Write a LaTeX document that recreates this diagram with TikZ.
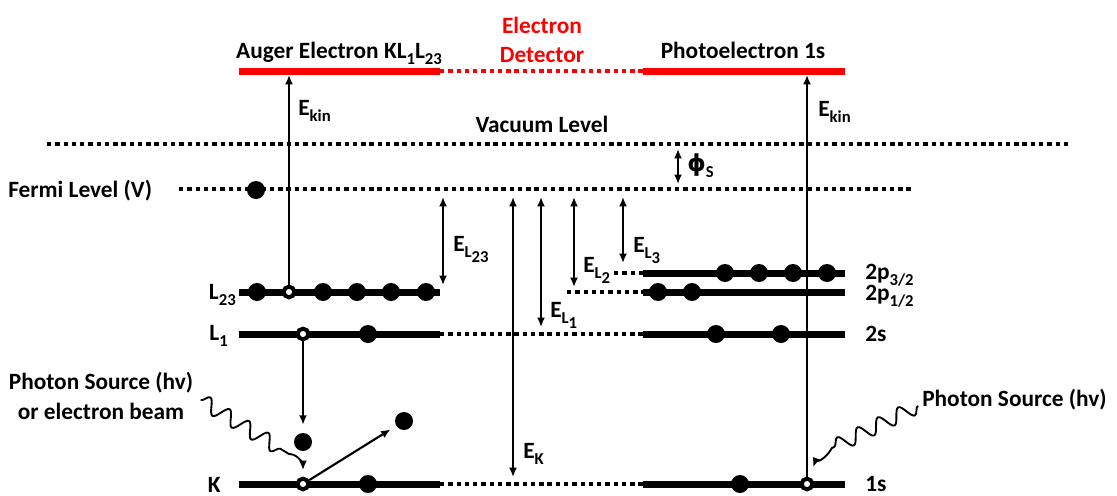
\documentclass[tikz,border=0pt]{standalone}
\usepackage{fontspec}
\setmainfont{Carlito}
\newfontfamily\greekfont{DejaVu Sans}
\usetikzlibrary{arrows.meta,decorations.pathmorphing}
\definecolor{detector}{HTML}{FF0000}
\newcommand\lo[1]{\raisebox{-0.28em}{\fontsize{12.5}{12.5}\selectfont #1}}

\tikzset{
  level/.style={line width=5.25pt},
  dotlevel/.style={line width=3pt,dash pattern=on 3.3pt off 2.9pt},
  elec/.style={circle,fill=black,inner sep=0pt,minimum size=13.5pt},
  hole/.style={circle,draw=black,fill=white,line width=3pt,inner sep=0pt,minimum size=8pt},
  arr/.style={-{Latex[length=7pt,width=6pt]},line width=1.6pt},
  darr/.style={{Latex[length=7pt,width=6pt]}-{Latex[length=7pt,width=6pt]},line width=1.6pt},
  wave/.style={decoration={snake,amplitude=5.5pt,segment length=17pt}},
  lbl/.style={anchor=base west,inner sep=0pt},
  lbr/.style={anchor=base east,inner sep=0pt},
}

\begin{document}
\begin{tikzpicture}[x=0.75pt,y=-0.75pt,font=\fontsize{17.5}{22}\selectfont\bfseries]
  \useasboundingbox (0,0) rectangle (1117,496);

  % detector
  \draw[level,detector] (239,71) -- (440,71);
  \draw[level,detector] (643,71) -- (845,71);
  \draw[dotlevel,detector] (440,71) -- (643,71);
  \node[detector,align=center] (det) at (542,40) {Electron\\Detector};
  \node[anchor=base,inner sep=0pt] (auglbl) at (339,58) {Auger Electron KL\lo{1}L\lo{23}};
  \node[anchor=base,inner sep=0pt] (phlbl) at (743,58) {Photoelectron 1s};

  % vacuum and fermi level
  \draw[dotlevel] (47,144) -- (1068,144);
  \node[anchor=base,inner sep=0pt] (vac) at (542,132) {Vacuum Level};
  \draw[dotlevel] (179,189) -- (913,189);
  \node[lbl] (fermi) at (8,197) {Fermi Level (V)};

  % levels
  \draw[level] (239,292) -- (440,292);
  \draw[level] (239,334) -- (440,334);
  \draw[level] (239,484) -- (440,484);
  \foreach \y in {273,292,334,484}
    \draw[level] (643,\y) -- (845,\y);
  \draw[dotlevel] (440,334) -- (643,334);
  \draw[dotlevel] (440,484) -- (643,484);
  \draw[dotlevel] (567,292) -- (643,292);
  \draw[dotlevel] (614,273) -- (643,273);

  \node[lbr] (l23lbl) at (236,299) {L\lo{23}};
  \node[lbr] (l1lbl) at (228,340) {L\lo{1}};
  \node[lbr] (klbl) at (221,492) {K};
  \node[lbl] (p32lbl) at (865,279) {2p\lo{3/2}};
  \node[lbl] (p12lbl) at (865,300) {2p\lo{1/2}};
  \node[lbl] (s2lbl) at (865,341) {2s};
  \node[lbl] (s1lbl) at (865,491) {1s};

  % electrons and holes
  \node[elec] (fe) at (256,190) {};
  \foreach \x [count=\i] in {257,323,357,391,426}
    \node[elec] (l23e\i) at (\x,292) {};
  \node[hole] (l23h) at (289,292) {};
  \node[hole] (l1h) at (303,334) {};
  \node[elec] (l1e) at (368,334) {};
  \node[hole] (kh) at (303,484) {};
  \node[elec] (ke) at (368,484) {};
  \node[elec] (fall) at (303,442) {};
  \node[elec] (auger) at (404,421) {};
  \foreach \x [count=\i] in {725,759,793,827}
    \node[elec] (pa\i) at (\x,273) {};
  \foreach \x [count=\i] in {658,692}
    \node[elec] (pb\i) at (\x,292) {};
  \foreach \x [count=\i] in {716,781}
    \node[elec] (sa\i) at (\x,334) {};
  \node[elec] (sb) at (740,484) {};
  \node[hole] (s1h) at (807,484) {};

  % kinetic energies
  \coordinate (augdet) at (289,75);
  \coordinate (phdet) at (807,75);
  \draw[arr] (l23h.north) -- (augdet);
  \draw[arr] (s1h.north) -- (phdet);
  \node[lbl] (ekinl) at (298,115) {E\lo{kin}};
  \node[lbl] (ekinr) at (818,116) {E\lo{kin}};

  % binding energies
  \foreach \n/\x/\yb in {l23/443/285,k/513/477,l1/541/327,l2/574/287,l3/623/263} {
    \coordinate (\n top) at (\x,197);
    \coordinate (\n bot) at (\x,\yb);
    \draw[darr] (\n top) -- (\n bot);
  }
  \coordinate (phitop) at (678,149);
  \coordinate (phibot) at (678,184);
  \draw[darr] (phitop) -- (phibot);
  \node[lbl] (phil) at (687,171) {{\greekfont ϕ}\lo{S}};
  \node[lbl] (el23) at (453,251) {E\lo{L\lo{23}}};
  \node[lbl] (ek) at (523,458) {E\lo{K}};
  \node[lbl] (el1) at (550,317) {E\lo{L\lo{1}}};
  \node[lbl] (el2) at (583,272) {E\lo{L\lo{2}}};
  \node[lbl] (el3) at (633,252) {E\lo{L\lo{3}}};

  % auger process
  \draw[arr,shorten >=6pt] (l1h.south) -- (fall);
  \draw[arr,shorten >=5pt] (kh) -- (auger);

  % photon sources
  \node[align=center] (src) at (101,396) {Photon Source (hv)\\or electron beam};
  \node[lbl] (rsrc) at (922,406) {Photon Source (hv)};
  \coordinate (lw) at (289,454);
  \coordinate (rw) at (832,448);
  \draw[arr,line width=1.4pt,shorten >=5pt] ([xshift=2pt,yshift=-3pt]src.east) decorate[wave]{-- (lw)} to[out=0,in=90] (kh.north);
  \draw[arr,line width=1.4pt,shorten >=8pt] ([xshift=-3pt,yshift=-5pt]rsrc.west) decorate[wave]{-- (rw)} to[out=240,in=70] (s1h);
\end{tikzpicture}
\end{document}
